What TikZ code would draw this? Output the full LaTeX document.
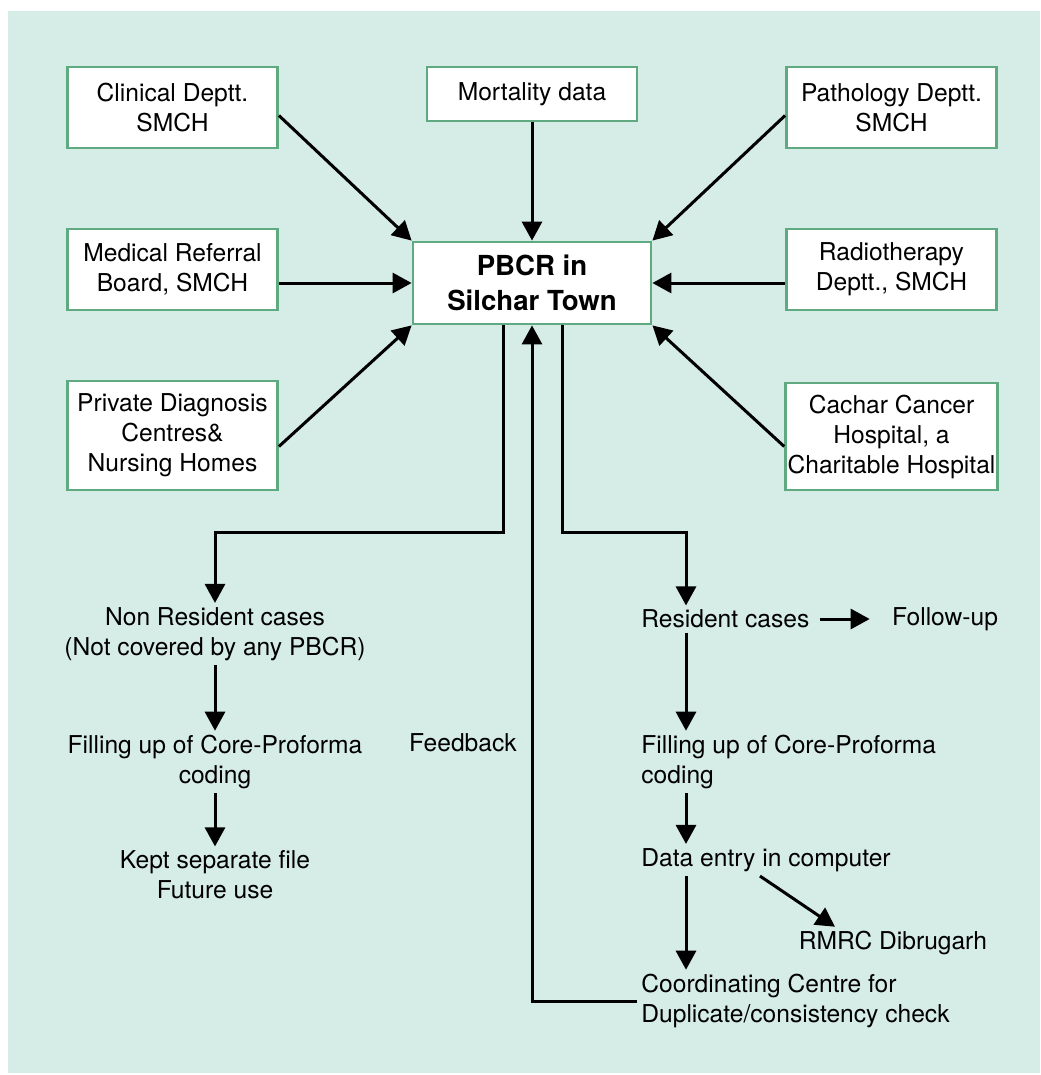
\documentclass[tikz,border=0pt]{standalone}
\usepackage{fontspec}
\setmainfont{TeX Gyre Heros}
\usepackage{tikz}
\usetikzlibrary{positioning,arrows.meta,calc}
\definecolor{bgGreen}{HTML}{D6ECE6}
\definecolor{boxGreen}{HTML}{5FAA80}

\begin{document}
\begin{tikzpicture}[
  x=0.5pt, y=-0.5pt,
  font=\fontsize{12.3}{15}\selectfont, >={Triangle[length=9.5pt,width=10pt]},
  srcBox/.style={draw=boxGreen, line width=1.4pt, fill=white,
               minimum width=105pt, minimum height=40.5pt, align=center, inner sep=1pt},
  mainBox/.style={srcBox, minimum width=119pt, minimum height=41pt,
               font=\bfseries\fontsize{13.8}{17.5}\selectfont},
  lbl/.style={align=center, inner sep=2pt},
  lblL/.style={align=left, anchor=west, inner sep=2pt},
  arr/.style={->, line width=1.5pt, color=black},
]
\useasboundingbox (0,0) rectangle (1040,1075);
\fill[bgGreen] (8,11) rectangle (1040,1073);

% source boxes
\node[srcBox] (clin)   at (172.5,107.5) {Clinical Deptt.\\SMCH};
\node[srcBox, minimum height=27pt] (mort) at (532,94) {Mortality data};
\node[srcBox] (path)   at (891.5,107.5) {Pathology Deptt.\\SMCH};
\node[srcBox] (medref) at (172.5,269.5) {Medical Referral\\Board, SMCH};
\node[mainBox] (pbcr)  at (532,283) {PBCR in\\Silchar Town};
\node[srcBox] (radio)  at (891.5,269.5) {Radiotherapy\\Deptt., SMCH};
\node[srcBox, minimum height=54.5pt] (priv)   at (172.5,435.5) {Private Diagnosis\\Centres\&\\Nursing Homes};
\node[srcBox, minimum height=53.5pt] (cachar) at (891.5,436.5) {Cachar Cancer\\Hospital, a\\Charitable Hospital};

\draw[arr] ([yshift=-4pt]clin.east) -- (pbcr.north west);
\draw[arr] (mort) -- (pbcr);
\draw[arr] ([yshift=-4pt]path.west) -- (pbcr.north east);
\draw[arr] (medref.east |- pbcr) -- (pbcr);
\draw[arr] (radio.west |- pbcr) -- (pbcr);
\draw[arr] ([yshift=-5.5pt]priv.east) -- (pbcr.south west);
\draw[arr] ([yshift=-5pt]cachar.west) -- (pbcr.south east);

% non resident branch
\node[lbl] (nonres) at (215,634) {Non Resident cases\\(Not covered by any PBCR)};
\node[lbl] (fillL)  at (215,762) {Filling up of Core-Proforma\\coding};
\node[lbl] (kept)   at (215,875) {Kept separate file\\Future use};
\coordinate (jl) at (215,532);
\draw[arr] ([xshift=-14.5pt]pbcr.south) |- (jl) -- (nonres);
\draw[arr] (nonres) -- (fillL);
\draw[arr] (fillL) -- (kept);

% resident branch
\node[lblL] (res)    at (637,619) {Resident cases};
\node[lbl]  (follow) at (945,619) {Follow-up};
\node[lblL] (fillR)  at (637,762) {Filling up of Core-Proforma\\coding};
\node[lblL] (data)   at (637,860) {Data entry in computer};
\node[lbl]  (rmrc)   at (893,943) {RMRC Dibrugarh};
\node[lblL] (coord)  at (637,1001) {Coordinating Centre for\\Duplicate/consistency check};
\coordinate (jr) at (686,532);
\draw[arr] ([xshift=15pt]pbcr.south) |- (jr) -- (res.north -| jr);
\draw[arr, shorten <=3pt, shorten >=9pt] (res) -- (follow);
\draw[arr] (res.south -| jr) -- (fillR.north -| jr);
\draw[arr] (fillR.south -| jr) -- (data.north -| jr);
\draw[arr] (data.south -| jr) -- (coord.north -| jr);
\draw[arr] ([xshift=-3pt]data.south) -- ([xshift=-29pt]rmrc.north);

% feedback loop
\draw[arr] (coord.west) -| (pbcr.south);
\node[lbl] (fb) at (463,743) {Feedback};
\end{tikzpicture}
\end{document}
